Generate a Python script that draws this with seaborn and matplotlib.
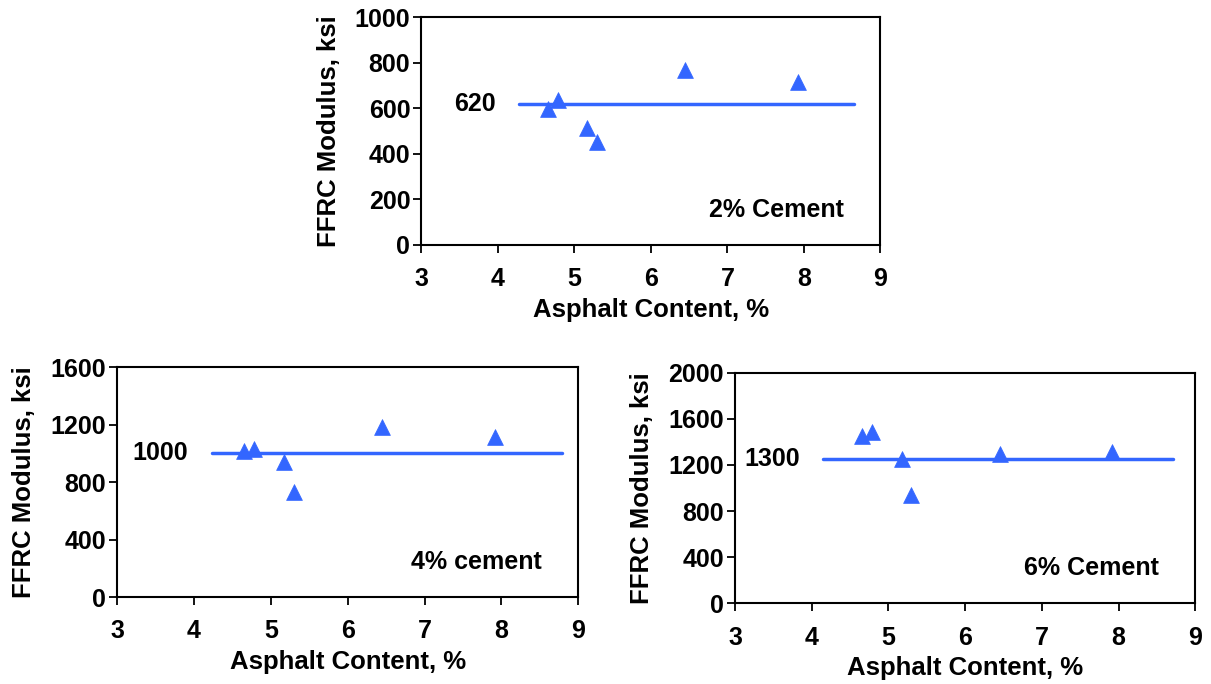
import pandas as pd
import matplotlib.pyplot as plt
import seaborn as sns

# data
asphalt = [4.65, 4.78, 5.17, 5.30, 6.45, 7.92]
mod_2pct = [597, 635, 515, 453, 768, 715]
mod_4pct = [1015, 1031, 939, 735, 1182, 1115]
mod_6pct = [1449, 1484, 1249, 938, 1292, 1315]

# average lines: x extent and level, plus the label shown beside them
avg_x_2pct = [4.27, 8.66]
avg_x_4pct = [4.23, 8.79]
avg_x_6pct = [4.14, 8.71]
avg_level = [620, 1000, 1250]
avg_label = ["620", "1000", "1300"]

panel_names = ["2% Cement", "4% cement", "6% Cement"]
y_max = [1000, 1600, 2000]
y_step = [200, 400, 400]

sns.set_style("ticks")
plt.rcParams["font.family"] = ["Liberation Sans", "DejaVu Sans"]
plt.rcParams["font.weight"] = "bold"
plt.rcParams["text.color"] = "black"
plt.rcParams["axes.labelcolor"] = "black"
plt.rcParams["xtick.color"] = "black"
plt.rcParams["ytick.color"] = "black"

blue = "#3366FF"

fig = plt.figure(figsize=(12.11, 6.84), dpi=100)
axes = [
    fig.add_axes([0.348, 0.642, 0.379, 0.333]),
    fig.add_axes([0.0966, 0.127, 0.381, 0.336]),
    fig.add_axes([0.607, 0.118, 0.380, 0.337]),
]

mods = [mod_2pct, mod_4pct, mod_6pct]
avg_xs = [avg_x_2pct, avg_x_4pct, avg_x_6pct]

for i, ax in enumerate(axes):
    df = pd.DataFrame({"x": asphalt, "y": mods[i]})
    line_df = pd.DataFrame({"x": avg_xs[i], "y": [avg_level[i]] * 2})
    sns.lineplot(data=line_df, x="x", y="y", ax=ax, color=blue, linewidth=2.5)
    sns.scatterplot(data=df, x="x", y="y", ax=ax, marker="^", color=blue,
                    s=130, edgecolor=blue, linewidth=0.5, zorder=3)

    ax.text(avg_xs[i][0] - 0.3, avg_level[i], avg_label[i], ha="right",
            va="center", fontsize=18, fontweight="bold")
    ax.text(0.92, 0.155, panel_names[i], transform=ax.transAxes, ha="right",
            va="center", fontsize=18, fontweight="bold")

    ax.set_xlim(3, 9)
    ax.set_ylim(0, y_max[i])
    ax.set_xticks(range(3, 10))
    ax.set_yticks(range(0, y_max[i] + 1, y_step[i]))
    ax.tick_params(axis="x", direction="out", length=6, pad=10, labelsize=18, width=1.3)
    ax.tick_params(axis="y", direction="out", length=6, pad=2, labelsize=18, width=1.3)
    for lab in ax.get_xticklabels() + ax.get_yticklabels():
        lab.set_fontweight("bold")
    for sp in ax.spines.values():
        sp.set_visible(True)
        sp.set_linewidth(1.5)
        sp.set_color("black")
    ax.set_xlabel("Asphalt Content, %", fontsize=18.5, fontweight="bold", labelpad=5)
    ax.set_ylabel("FFRC Modulus, ksi", fontsize=18.5, fontweight="bold", labelpad=10)

plt.savefig("out.png", dpi=100)
